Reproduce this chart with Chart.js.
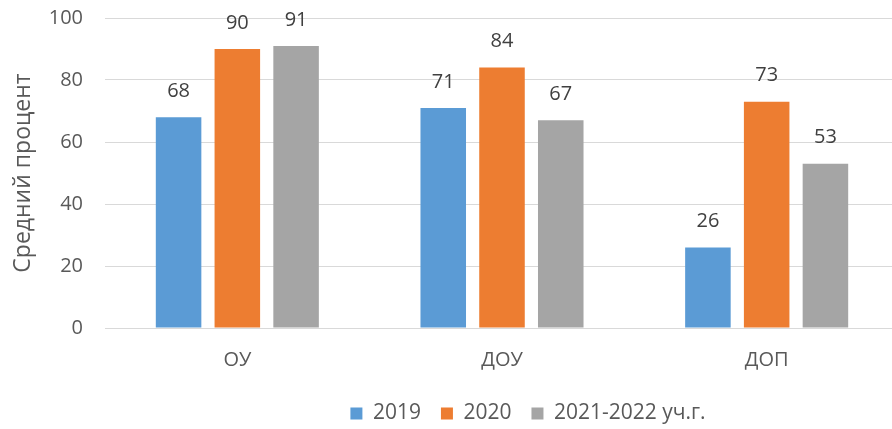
<!DOCTYPE html>
<html>
<head>
<meta charset="utf-8">
<script src="https://cdn.jsdelivr.net/npm/chart.js@4/dist/chart.umd.min.js"></script>
<style>
html,body{margin:0;padding:0;overflow:hidden;background:#fff;}
#wrap{width:900px;height:429px;position:relative;}
</style>
</head>
<body>
<div id="wrap"><canvas id="c"></canvas></div>
<script>
const categories = ["ОУ", "ДОУ", "ДОП"];
const series2019 = [68, 71, 26];
const series2020 = [90, 84, 73];
const series2122 = [91, 67, 53];
const seriesNames = ["2019", "2020", "2021-2022 уч.г."];
const yTicks = [0, 20, 40, 60, 80, 100];
const yTitle = "Средний процент";

const FONT = "'Open Sans', sans-serif";

const dataLabels = {
  id: 'dataLabels',
  afterDatasetsDraw(chart) {
    const ctx = chart.ctx;
    ctx.save();
    ctx.font = "20px " + FONT;
    ctx.fillStyle = "#404040";
    ctx.textAlign = "center";
    ctx.textBaseline = "middle";
    chart.data.datasets.forEach((ds, i) => {
      const meta = chart.getDatasetMeta(i);
      meta.data.forEach((el, j) => {
        ctx.fillText(String(ds.data[j]), el.x, el.y - 26);
      });
    });
    ctx.restore();
  }
};

const legendShift = {
  id: 'legendShift',
  afterLayout(chart) {
    const lg = chart.legend;
    if (!lg) return;
    const target = 528;
    const cur = (lg.left + lg.right) / 2;
    const d = target - cur;
    lg.left += d; lg.right += d;
    lg.top += 5; lg.bottom += 5;
  }
};

new Chart(document.getElementById('c'), {
  type: 'bar',
  data: {
    labels: categories,
    datasets: [
      { label: seriesNames[0], data: series2019, backgroundColor: '#5b9bd5' },
      { label: seriesNames[1], data: series2020, backgroundColor: '#ed7d31' },
      { label: seriesNames[2], data: series2122, backgroundColor: '#a5a5a5' }
    ]
  },
  options: {
    responsive: true,
    maintainAspectRatio: false,
    animation: false,
    devicePixelRatio: 1,
    layout: { padding: { top: 0, right: 1, left: 0, bottom: 0 } },
    datasets: { bar: { categoryPercentage: 0.666, barPercentage: 0.775 } },
    plugins: {
      tooltip: { enabled: false },
      legend: {
        position: 'bottom',
        labels: {
          font: { family: FONT, size: 21 },
          color: '#595959',
          boxWidth: 12,
          boxHeight: 12,
          padding: 20,
          useBorderRadius: false
        }
      }
    },
    scales: {
      x: {
        grid: { display: false, drawTicks: false },
        border: { color: '#d9d9d9', width: 1 },
        ticks: { font: { family: FONT, size: 20 }, color: '#595959', padding: 20 },
        afterFit(s) { s.height = 50; }
      },
      y: {
        min: 0, max: 100,
        afterBuildTicks(s) { s.ticks = yTicks.map(v => ({ value: v })); },
        grid: { color: '#d9d9d9', lineWidth: 1, drawTicks: false },
        border: { display: false },
        ticks: { font: { family: FONT, size: 20 }, color: '#595959', padding: 22 },
        title: {
          display: true, text: yTitle, color: '#595959',
          font: { family: FONT, size: 23 }, padding: { top: 10, bottom: 0 }
        },
        afterFit(s) { s.width = 105; s.paddingTop = 18; s.paddingBottom = 0; }
      }
    }
  },
  plugins: [dataLabels, legendShift]
});
</script>
</body>
</html>
